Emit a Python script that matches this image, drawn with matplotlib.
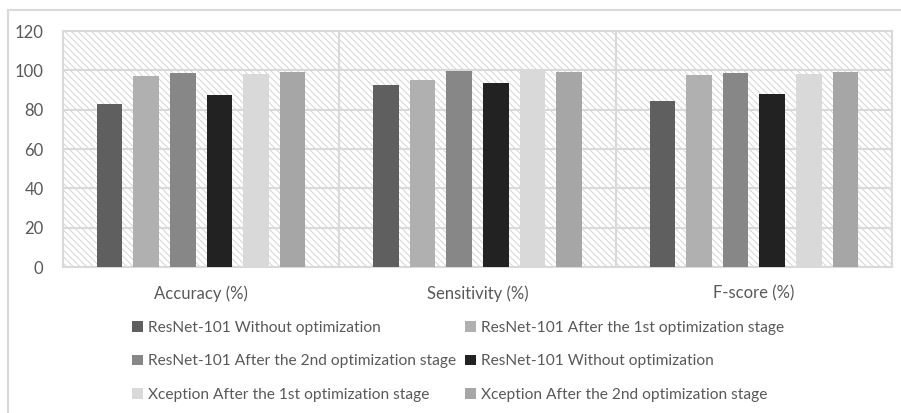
import matplotlib.pyplot as plt
from matplotlib.patches import Rectangle
import numpy as np

plt.rcParams['font.family'] = ['Lato', 'DejaVu Sans']
plt.rcParams['hatch.linewidth'] = 0.7

# metrics on the x axis
categories = ['Accuracy (%)', 'Sensitivity (%)', 'F-score (%)']

series_names = [
    'ResNet-101 Without optimization',
    'ResNet-101 After the 1st optimization stage',
    'ResNet-101 After the 2nd optimization stage',
    'ResNet-101 Without optimization',
    'Xception After the 1st optimization stage',
    'Xception After the 2nd optimization stage',
]

resnet_none = [83.0, 92.7, 84.4]
resnet_stage1 = [97.3, 95.2, 97.5]
resnet_stage2 = [98.8, 99.5, 98.8]
xception_none = [87.3, 93.5, 88.0]
xception_stage1 = [98.1, 100.0, 98.1]
xception_stage2 = [99.1, 99.3, 99.1]

values = [resnet_none, resnet_stage1, resnet_stage2,
          xception_none, xception_stage1, xception_stage2]
colors = ['#5f5f5f', '#b0b0b0', '#878787', '#222222', '#d9d9d9', '#a6a6a6']

fig = plt.figure(figsize=(9.01, 4.13), dpi=100)

# light outer frame of the chart area
fig.patches.append(Rectangle((8 / 901, -0.1), 1.2, 1 - 10 / 413 + 0.1,
                             transform=fig.transFigure, fill=False,
                             edgecolor='#d9d9d9', linewidth=1.5))

ax = fig.add_axes([63 / 901, 1 - 267 / 413, 829 / 901, 236 / 413])

# hatched plot background
ax.add_patch(Rectangle((0, 0), 1, 1, transform=ax.transAxes, facecolor='white',
                       edgecolor='#d4d4d4', hatch='\\' * 5, linewidth=0, zorder=0))

x = np.arange(len(categories))
step = 0.1326
width = 0.092
for i, (vals, c) in enumerate(zip(values, colors)):
    ax.bar(x + (i - 2.5) * step, vals, width, color=c, zorder=3,
           label=series_names[i])

ax.set_xlim(-0.5, len(categories) - 0.5)
ax.set_ylim(0, 120)
ax.set_yticks(range(0, 121, 20))
ax.set_xticks(x)
ax.set_xticklabels(categories)
ax.set_xticks(x[:-1] + 0.5, minor=True)

ax.grid(axis='y', color='#d9d9d9', linewidth=1.5, zorder=1)
ax.grid(axis='x', which='minor', color='#d9d9d9', linewidth=1.5, zorder=1)
ax.grid(axis='x', which='major', visible=False)
ax.set_axisbelow(True)

for s in ax.spines.values():
    s.set_color('#d9d9d9')
    s.set_linewidth(1.5)

ax.tick_params(axis='both', which='both', length=0, colors='#595959',
               labelsize=12)
ax.tick_params(axis='y', pad=14)
ax.tick_params(axis='x', pad=13)

# legend filled row by row
h, l = ax.get_legend_handles_labels()
order = [0, 2, 4, 1, 3, 5]
leg = fig.legend([h[i] for i in order], [l[i] for i in order],
                 loc='upper left', bbox_to_anchor=(132 / 901, 1 - 321 / 413),
                 ncol=2, frameon=False, fontsize=11.2, labelcolor='#595959',
                 handlelength=0.7, handleheight=0.7, handletextpad=0.3,
                 columnspacing=0.6, labelspacing=1.25, borderaxespad=0,
                 borderpad=0)

fig.savefig('out.png', dpi=100)
